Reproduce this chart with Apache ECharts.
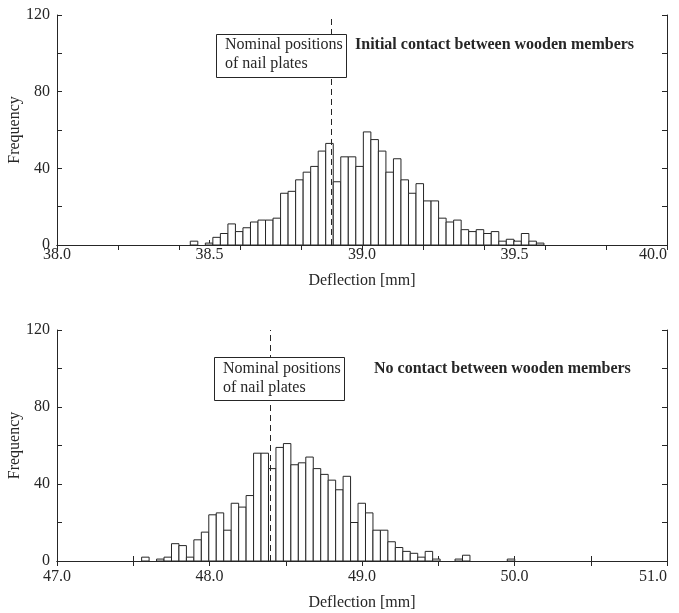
<!DOCTYPE html>
<html>
<head>
<meta charset="utf-8">
<script src="https://cdn.jsdelivr.net/npm/echarts@6/dist/echarts.min.js"></script>
<style>
  html, body { margin: 0; padding: 0; background: #fff; }
  #chart { width: 679px; height: 613px; }
</style>
</head>
<body>
<div id="chart"></div>
<script>
// upper panel - initial contact between wooden members
const topBinStart = 38.437;
const topBinWidth = 0.02467;
const topCounts = [2, 0, 1, 4, 6, 11, 7, 9, 12, 13, 13, 14, 27, 28, 34, 38, 41, 49, 53, 33,
  46, 46, 41, 59, 55, 49, 38, 45, 34, 27, 32, 23, 23, 14, 12, 13, 8, 7, 8, 6,
  7, 2, 3, 2, 6, 2, 1];
const topNominal = 38.9;
const topRange = [38.0, 40.0];

// lower panel - no contact between wooden members
const botBinStart = 47.555;
const botBinWidth = 0.04893;
const botCounts = [2, 0, 1, 2, 9, 8, 2, 11, 15, 24, 25, 16, 30, 28, 34, 56, 56, 48, 59, 61,
  50, 51, 54, 48, 45, 42, 37, 44, 20, 30, 25, 16, 16, 10, 7, 5, 4, 2, 5, 1,
  0, 0, 1, 3, 0, 0, 0, 0, 0, 1];
const botNominal = 48.4;
const botRange = [47.0, 51.0];

const freqRange = [0, 120];

const FONT = '"Liberation Serif", "Times New Roman", serif';
const INK = '#262626';

// histogram rows: [left edge, right edge, count]
function toBins(start, width, counts) {
  const out = [];
  counts.forEach(function (c, i) {
    if (c > 0) out.push([start + i * width, start + (i + 1) * width, c]);
  });
  return out;
}

function isStep(v, step) {
  const r = v / step;
  return Math.abs(r - Math.round(r)) < 1e-6;
}

function renderBar(params, api) {
  const p0 = api.coord([api.value(0), api.value(2)]);
  const p1 = api.coord([api.value(1), 0]);
  return {
    type: 'rect',
    shape: { x: p0[0], y: p0[1], width: p1[0] - p0[0], height: p1[1] - p0[1] },
    style: { fill: '#fff', stroke: INK, lineWidth: 1 }
  };
}

function bottomAxis(grid, range, tickStep, labelStep, margin, nameGap) {
  return {
    gridIndex: grid, type: 'value', position: 'bottom',
    min: range[0], max: range[1], interval: tickStep,
    axisLine: { show: true, lineStyle: { color: INK, width: 1 } },
    axisTick: { show: true, inside: true, length: 5, lineStyle: { color: INK } },
    splitLine: { show: false },
    axisLabel: {
      margin: margin, fontSize: 16, fontFamily: FONT, color: INK,
      alignMaxLabel: 'right',
      formatter: function (v) { return isStep(v, labelStep) ? v.toFixed(1) : ''; }
    },
    name: 'Deflection [mm]', nameLocation: 'middle', nameGap: nameGap,
    nameTextStyle: { fontSize: 16, fontFamily: FONT, color: INK }
  };
}

function topAxis(grid, range, tickStep) {
  return {
    gridIndex: grid, type: 'value', position: 'top',
    min: range[0], max: range[1], interval: tickStep,
    axisLine: { show: true, lineStyle: { color: INK, width: 1 } },
    axisTick: { show: true, inside: true, length: 5, lineStyle: { color: INK } },
    axisLabel: { show: false },
    splitLine: { show: false }
  };
}

function freqAxis(grid, side) {
  const left = side === 'left';
  return {
    gridIndex: grid, type: 'value', position: side,
    min: freqRange[0], max: freqRange[1], interval: 20,
    axisLine: { show: true, lineStyle: { color: INK, width: 1 } },
    axisTick: { show: true, inside: true, length: 5, lineStyle: { color: INK } },
    splitLine: { show: false },
    axisLabel: {
      show: left, margin: 7, fontSize: 16, fontFamily: FONT, color: INK,
      formatter: function (v) { return v % 40 === 0 ? String(v) : ''; }
    },
    name: left ? 'Frequency' : '', nameLocation: 'middle', nameGap: 34,
    nameMoveOverlap: false,
    nameTextStyle: { fontSize: 16, fontFamily: FONT, color: INK }
  };
}

function nominalLine(x) {
  return {
    silent: true,
    symbol: ['none', 'none'],
    label: { show: false },
    lineStyle: { type: [6, 4], color: INK, width: 1 },
    data: [{ xAxis: x }]
  };
}

const chart = echarts.init(document.getElementById('chart'));

const option = {
  backgroundColor: '#fff',
  animation: false,
  grid: [
    { left: 57, top: 15, width: 610, height: 230, containLabel: false, outerBoundsMode: 'none' },
    { left: 57, top: 330, width: 610, height: 231, containLabel: false, outerBoundsMode: 'none' }
  ],
  xAxis: [
    bottomAxis(0, topRange, 0.5, 0.5, 2, 28),
    topAxis(0, topRange, 0.2),
    bottomAxis(1, botRange, 0.5, 1, 8, 34),
    topAxis(1, botRange, 0.5)
  ],
  yAxis: [
    freqAxis(0, 'left'),
    freqAxis(0, 'right'),
    freqAxis(1, 'left'),
    freqAxis(1, 'right')
  ],
  series: [
    {
      type: 'custom', name: 'initial contact',
      xAxisIndex: 0, yAxisIndex: 0,
      renderItem: renderBar,
      encode: { x: [0, 1], y: 2 },
      data: toBins(topBinStart, topBinWidth, topCounts),
      markLine: nominalLine(topNominal)
    },
    {
      type: 'custom', name: 'no contact',
      xAxisIndex: 2, yAxisIndex: 2,
      renderItem: renderBar,
      encode: { x: [0, 1], y: 2 },
      data: toBins(botBinStart, botBinWidth, botCounts),
      markLine: nominalLine(botNominal)
    }
  ],
  graphic: [
    {
      type: 'rect', z: 100,
      shape: { x: 216.5, y: 34.5, width: 130, height: 43 },
      style: { fill: '#fff', stroke: INK, lineWidth: 1 }
    },
    {
      type: 'text', z: 101, left: 225, top: 35,
      style: { text: 'Nominal positions\nof nail plates', font: '16px ' + FONT, fill: INK, lineHeight: 19 }
    },
    {
      type: 'text', z: 101, left: 355, top: 35,
      style: { text: 'Initial contact between wooden members', font: 'bold 16px ' + FONT, fill: INK, lineHeight: 19 }
    },
    {
      type: 'rect', z: 100,
      shape: { x: 214.5, y: 357.5, width: 130, height: 43 },
      style: { fill: '#fff', stroke: INK, lineWidth: 1 }
    },
    {
      type: 'text', z: 101, left: 223, top: 359,
      style: { text: 'Nominal positions\nof nail plates', font: '16px ' + FONT, fill: INK, lineHeight: 19 }
    },
    {
      type: 'text', z: 101, left: 374, top: 359,
      style: { text: 'No contact between wooden members', font: 'bold 16px ' + FONT, fill: INK, lineHeight: 19 }
    }
  ]
};

chart.setOption(option);
</script>
</body>
</html>
